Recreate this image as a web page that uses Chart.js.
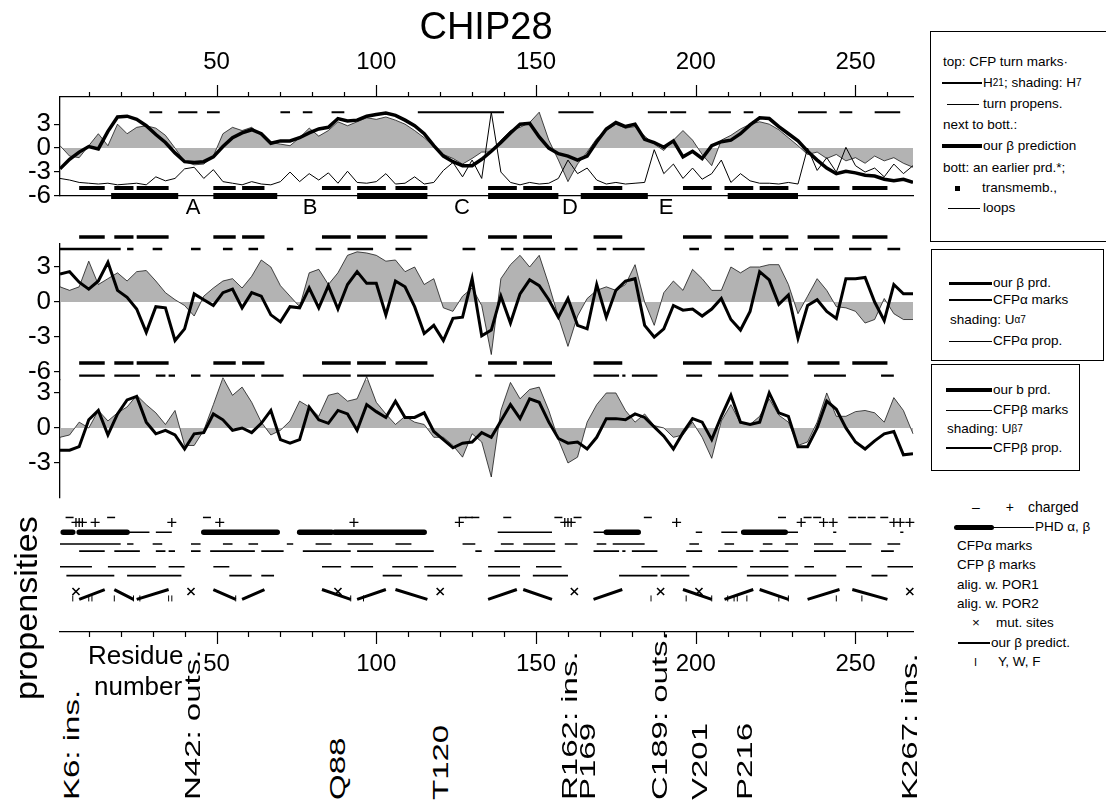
<!DOCTYPE html>
<html>
<head>
<meta charset="utf-8">
<script src="https://cdn.jsdelivr.net/npm/chart.js@4.4.1/dist/chart.umd.min.js"></script>
<style>
body{margin:0;background:#fff;width:1106px;height:803px;overflow:hidden;position:relative;font-family:Arial,"Liberation Sans",sans-serif;color:#000;}
canvas{position:absolute;left:0;}
.t{position:absolute;white-space:nowrap;line-height:1;}
.box{position:absolute;border:1.3px solid #000;}
.lg{position:absolute;font-size:13.5px;line-height:16px;height:16px;white-space:nowrap;display:flex;align-items:center;}
.ln{display:inline-block;background:#000;margin-right:1px;}
sub{font-size:10px;vertical-align:-3px;line-height:0;}
.rot{position:absolute;transform-origin:left top;white-space:nowrap;line-height:1;}
.site{font-size:22px;transform:rotate(-90deg) scaleX(1.5);}
</style>
</head>
<body>
<canvas id="c1" width="930" height="215" style="top:0"></canvas>
<canvas id="c2" width="930" height="160" style="top:225px"></canvas>
<canvas id="c3" width="930" height="140" style="top:368px"></canvas>
<canvas id="c4" width="930" height="185" style="top:500px"></canvas>

<div class="t" style="left:386px;top:7px;width:200px;text-align:center;font-size:38px">CHIP28</div>

<div class="t" style="left:173px;top:196px;width:40px;text-align:center;font-size:22px">A</div>
<div class="t" style="left:290px;top:196px;width:40px;text-align:center;font-size:22px">B</div>
<div class="t" style="left:442px;top:196px;width:40px;text-align:center;font-size:22px">C</div>
<div class="t" style="left:550px;top:196px;width:40px;text-align:center;font-size:22px">D</div>
<div class="t" style="left:646px;top:196px;width:40px;text-align:center;font-size:22px">E</div>

<div class="rot" style="left:11px;top:700px;font-size:31px;transform:rotate(-90deg) scaleX(1.1)">propensities</div>
<div class="t" style="left:88px;top:642px;font-size:26px">Residue</div>
<div class="t" style="left:94px;top:673px;font-size:26px">number</div>

<div class="rot site" style="left:61px;top:800px">K6: ins.</div>
<div class="rot site" style="left:182px;top:800px">N42: outs.</div>
<div class="rot site" style="left:327px;top:800px">Q88</div>
<div class="rot site" style="left:430px;top:800px">T120</div>
<div class="rot site" style="left:559px;top:800px">R162: ins.</div>
<div class="rot site" style="left:577px;top:800px">P169</div>
<div class="rot site" style="left:649px;top:800px">C189: outs.</div>
<div class="rot site" style="left:689px;top:800px">V201</div>
<div class="rot site" style="left:734px;top:800px">P216</div>
<div class="rot site" style="left:899px;top:800px">K267: ins.</div>

<!-- legend box 1 -->
<div class="box" style="left:930px;top:31px;width:200px;height:209px"></div>
<div class="lg" style="left:943px;top:54px">top: CFP turn marks·</div>
<div class="lg" style="left:942px;top:75px"><span class="ln" style="width:40px;height:2.5px"></span>H<sub>21</sub>; shading: H<sub>7</sub></div>
<div class="lg" style="left:947px;top:96px"><span class="ln" style="width:32px;height:1px;margin-right:4px"></span>turn propens.</div>
<div class="lg" style="left:943px;top:117px">next to bott.:</div>
<div class="lg" style="left:942px;top:138px"><span class="ln" style="width:40px;height:3.5px"></span>our β prediction</div>
<div class="lg" style="left:943px;top:160px">bott: an earlier prd.*;</div>
<div class="lg" style="left:955px;top:180px"><span class="ln" style="width:5px;height:5px;margin-right:22px"></span>transmemb.,</div>
<div class="lg" style="left:948px;top:200px"><span class="ln" style="width:32px;height:1px;margin-right:3px"></span>loops</div>

<!-- legend box 2 -->
<div class="box" style="left:931px;top:249px;width:171px;height:110px"></div>
<div class="lg" style="left:949px;top:275px"><span class="ln" style="width:43px;height:3px"></span>our β prd.</div>
<div class="lg" style="left:949px;top:292px"><span class="ln" style="width:43px;height:1.5px"></span>CFPα marks</div>
<div class="lg" style="left:950px;top:312px">shading: U<sub>α7</sub></div>
<div class="lg" style="left:949px;top:333px"><span class="ln" style="width:43px;height:1px"></span>CFPα prop.</div>

<!-- legend box 3 -->
<div class="box" style="left:931px;top:364px;width:147px;height:105px"></div>
<div class="lg" style="left:946px;top:382px"><span class="ln" style="width:46px;height:4px"></span>our b prd.</div>
<div class="lg" style="left:946px;top:402px"><span class="ln" style="width:46px;height:1px"></span>CFPβ marks</div>
<div class="lg" style="left:947px;top:421px">shading: U<sub>β7</sub></div>
<div class="lg" style="left:946px;top:440px"><span class="ln" style="width:46px;height:2.5px"></span>CFPβ prop.</div>

<!-- bottom legend -->
<div class="lg" style="left:972px;top:499px;font-size:14px">–<span style="display:inline-block;width:26px"></span>+<span style="display:inline-block;width:14px"></span>charged</div>
<div class="lg" style="left:954px;top:519px"><span class="ln" style="width:40px;height:5px;border-radius:3px;margin-right:0"></span><span class="ln" style="width:40px;height:1px"></span>PHD α, β</div>
<div class="lg" style="left:957px;top:538px">CFPα marks</div>
<div class="lg" style="left:957px;top:557px">CFP β marks</div>
<div class="lg" style="left:957px;top:577px">alig. w. POR1</div>
<div class="lg" style="left:957px;top:596px">alig. w. POR2</div>
<div class="lg" style="left:972px;top:615px"><span style="display:inline-block;width:24px">×</span>mut. sites</div>
<div class="lg" style="left:958px;top:635px"><span class="ln" style="width:32px;height:2.5px"></span>our β predict.</div>
<div class="lg" style="left:974px;top:654px"><span style="display:inline-block;width:24px;font-size:11px">I</span>Y, W, F</div>

<script>
// residue positions shared by all profile curves
const residues = [1,4,7,10,13,16,19,22,25,28,31,34,37,40,43,46,49,52,55,58,61,64,67,70,73,76,79,82,85,88,
  91,94,97,100,103,106,109,112,115,118,121,124,127,130,133,136,139,142,145,148,151,154,157,160,163,166,169,172,175,178,
  181,184,187,190,193,196,199,202,205,208,211,214,217,220,223,226,229,232,235,238,241,244,247,250,253,256,259,262,265,268];
const tickLabels = [50, 100, 150, 200, 250];
const minorTicks = [10,20,30,40,50,60,70,80,90,100,110,120,130,140,150,160,170,180,190,200,210,220,230,240,250,260];

// top panel: H21 (thick), H7 (shading), turn propensity (thin)
const h21 = [-2.6,-1.4,-0.5,0.2,-0.1,2.1,3.9,4.0,3.6,2.8, 1.7,0.7,-0.6,-1.7,-1.8,-1.7,-1.1,0.2,1.3,1.9,
  2.3,1.8,0.6,0.9,0.9,1.3,1.9,2.4,2.6,3.7, 3.4,3.5,4.0,4.2,4.4,4.1,3.5,2.8,1.8,0.3,
  -1.0,-1.7,-2.2,-2.2,-1.4,-0.4,0.7,1.9,3.0,3.1, 1.4,0.0,-0.7,-1.0,-1.5,-1.0,0.8,2.4,3.2,2.7,
  3.0,1.1,0.7,0.1,0.9,-1.1,-0.4,-1.3,0.3,0.8, 1.0,1.8,2.9,3.8,3.7,2.7,1.8,0.9,-0.4,-1.5,
  -2.5,-3.2,-2.9,-3.1,-3.4,-3.5,-3.9,-4.1,-3.9,-4.3];
const h7 = [0.3,-1.0,-1.2,0.3,1.8,0.3,3.0,1.8,2.6,2.8, 2.5,1.6,0.0,-1.7,-2.1,-2.0,-1.0,1.8,2.6,2.2,
  2.6,1.6,0.7,0.5,0.3,1.3,2.5,1.5,2.2,3.3, 2.8,3.3,3.8,3.6,3.9,3.5,3.0,2.2,1.3,0.2,
  -0.8,-1.3,-2.0,-1.3,-0.5,-0.5,1.0,2.2,2.6,3.2, 4.5,1.0,-1.5,-4.2,-2.0,-0.5,1.2,2.2,3.0,2.5,
  2.7,1.5,0.5,-0.3,1.0,2.2,1.0,-0.8,-2.2,1.0, 1.6,2.4,3.0,3.3,3.0,2.3,1.3,0.3,-0.8,-0.5,
  -1.3,-0.8,-1.6,-1.2,-1.9,-1.0,-1.6,-1.2,-1.9,-2.4];
const turnProp = [-3.8,-4.0,-4.3,-4.4,-4.5,-4.4,-4.6,-4.5,-4.4,-4.6, -3.6,-4.1,-3.8,-2.6,-2.4,-3.8,-2.7,-4.2,-4.4,-4.6,
  -4.2,-4.5,-4.6,-4.2,-3.0,-4.2,-3.2,-4.0,-3.1,-4.4, -2.9,-4.3,-4.4,-4.2,-3.2,-4.5,-4.4,-3.6,-4.5,-4.3,
  -2.8,-1.8,-3.6,-1.5,-3.8,4.5,-3.0,-4.3,-4.6,-4.3, -4.5,-4.4,-3.8,-1.5,-3.2,-2.5,-4.0,-4.5,-4.3,-4.5,
  -4.4,-4.3,-0.2,-3.2,-2.0,-3.8,-2.5,-3.9,-3.2,-1.5, -4.3,-3.2,-4.1,-4.4,-4.4,-4.5,-4.3,-4.5,0.0,-2.8,
  -1.2,-3.0,0.1,-2.2,-3.0,-2.5,-3.6,-2.0,-3.2,-2.2];

// middle panel: our beta prediction (thick) and U_alpha7 (shading)
const alphaPanelPrd = [2.4,2.6,1.7,1.1,1.8,3.4,1.0,0.4,-0.6,-2.6, -0.4,-0.5,-3.3,-2.3,0.7,0.2,-0.3,0.8,1.1,-0.5,
  0.8,0.5,-1.1,-1.7,-0.4,-0.5,1.2,-0.5,1.4,-0.6, 1.5,2.6,1.6,1.6,-1.1,1.8,1.3,-0.4,-2.7,-2.0,
  -3.3,-1.4,-1.3,2.0,-2.9,-2.4,0.5,-1.8,0.7,1.9, 1.4,0.2,-1.3,0.3,-2.0,-2.3,1.5,-1.3,1.0,1.8,
  2.0,-2.0,-3.0,-2.3,-0.3,-0.7,-0.6,-1.2,-0.6,0.3, -1.5,-2.4,-0.8,2.6,1.9,-0.2,0.6,-3.1,-0.3,0.2,
  -0.8,-1.4,2.0,2.0,2.1,0.0,-1.6,1.5,0.7,0.7];
const uAlpha = [1.3,1.0,1.3,3.5,1.5,2.0,2.5,1.8,2.6,2.7, 1.8,0.8,0.2,-0.3,-1.2,0.5,1.2,1.8,2.0,1.2,
  2.2,3.6,3.0,1.4,0.5,-0.4,2.5,2.8,1.5,2.5, 4.0,4.3,4.2,4.0,3.5,3.6,2.6,3.0,1.5,2.0,
  -0.5,-0.8,0.5,1.2,-0.3,-4.5,2.0,3.2,4.0,3.0, 4.0,1.5,-1.3,-3.8,-1.2,0.3,1.0,1.3,1.0,1.5,
  3.2,0.0,-2.0,0.8,1.8,1.0,2.8,2.0,1.0,1.0, 3.0,2.5,3.0,3.0,3.2,3.2,1.5,-1.0,0.5,2.0,
  1.0,-0.4,-0.5,-0.8,-1.8,-1.5,0.3,-1.0,-1.5,-1.5];

// lower panel: our b prediction (thick) and U_beta7 (shading)
const betaPanelPrd = [-1.9,-1.9,-1.6,0.7,1.5,-0.6,1.2,2.4,2.7,0.5, -0.5,-0.2,-0.6,-1.8,-0.5,-0.4,1.2,0.7,-0.2,0.0,
  -0.4,0.4,1.5,-1.0,-1.3,-1.0,1.8,0.7,0.4,1.5, 1.2,-0.2,2.0,1.4,0.9,2.3,0.9,0.9,1.3,-0.3,
  -1.0,-1.7,-1.3,-1.2,-0.4,-0.8,0.6,2.0,0.8,2.5, 2.2,0.5,-0.9,-1.3,-1.2,-1.8,-0.8,0.8,0.8,0.7,
  1.2,0.9,0.1,-0.7,-1.8,-0.4,0.8,0.5,-1.0,1.0, 2.8,0.5,0.3,0.5,3.0,1.3,1.0,-1.6,-1.6,0.0,
  2.3,1.6,0.0,-1.2,-1.8,-1.1,-0.5,-0.3,-2.3,-2.2];
const uBeta = [-0.8,-0.6,0.5,0.0,1.5,0.6,1.3,1.8,2.8,2.0, 1.3,0.3,1.5,-1.5,-1.5,-0.2,2.0,4.3,2.8,3.5,
  2.2,0.5,-0.6,-0.2,0.6,2.3,1.8,1.0,2.8,3.0, 2.3,2.5,4.4,2.2,1.2,0.3,1.0,0.5,0.3,-0.8,
  -0.8,-1.5,-2.5,-0.5,-1.2,-4.2,1.5,3.9,2.5,3.3, 3.5,1.5,-1.0,-3.0,-2.5,0.5,2.0,3.0,3.0,1.5,
  0.5,1.2,0.2,0.0,-0.8,-0.6,0.5,-0.8,-2.6,0.6, 2.0,0.4,0.3,1.0,2.5,1.1,0.5,-1.5,-1.2,0.5,
  3.0,1.0,1.0,1.4,1.5,1.3,0.5,2.6,1.5,-0.5];

// segment marks, [first residue, last residue]
const turnMarks = [[29,33],[38,44],[47,51],[70,73],[77,80],[86,90],[113,140],[157,168],[185,191],[192,197],[204,211],[215,218],[232,241],[245,249],[256,264]];
const betaPred = [[7,15],[18,24],[25,35],[49,56],[58,65],[83,92],[94,103],[106,116],[135,144],[146,155],[168,177],[196,205],[209,218],[220,229],[235,245],[249,260]];
const transMemb = [[17,38],[49,69],[94,116],[135,157],[164,185],[210,232]];
const cfpAlphaMarks = [[1,20],[22,24],[30,33],[42,45],[52,55],[60,63],[72,74],[81,86],[91,99],[106,111],[127,131],[139,143],[146,156],[159,163],[169,172],[174,184],[198,201],[209,212],[221,224],[228,232],[237,243],[248,255],[260,264]];
const cfpBetaMarks = [[7,15],[18,26],[31,34],[35,37],[42,45],[48,62],[64,71],[77,92],[94,118],[131,133],[137,156],[168,176],[177,178],[180,188],[197,202],[207,218],[220,229],[237,247],[258,262]];
const phdAlpha = [[2,5],[7,22],[46,69],[76,86],[87,115],[172,182],[215,228]];
const phdBeta = [[22,29],[31,36],[138,155],[168,172],[200,202],[208,213],[228,232],[243,244],[264,265]];
const por1 = [[1,11],[16,31],[35,40],[49,54],[83,89],[92,99],[105,113],[115,125],[135,145],[150,158],[183,197],[199,213],[217,229],[234,237],[247,252],[260,268]];
const por2 = [[3,18],[22,39],[54,61],[64,68],[102,108],[116,127],[135,145],[149,160],[176,188],[189,198],[216,229],[231,244],[255,260]];
const chargedNeg = [4,17,47,127,129,131,141,157,163,185,227,235,238,249,252,255,259];
const chargedPos = [6,7,8,12,36,51,93,126,159,160,161,194,233,240,243,262,264,267];
const mutSites = [6,42,88,120,162,189,201,267];
const ywfSites = [5,10,11,18,24,26,35,36,56,92,96,186,197,205,210,212,213,216,226,229,244,252];

const F = 'Arial, "Liberation Sans", sans-serif';
Chart.defaults.font.family = F;
Chart.defaults.color = '#000';
Chart.defaults.animation = false;
Chart.defaults.responsive = false;
Chart.defaults.events = [];
Chart.defaults.plugins.legend.display = false;
Chart.defaults.plugins.tooltip.enabled = false;

const GRAY = '#b3b3b3';

function pts(vals) { return residues.map((r, i) => ({ x: r, y: vals[i] })); }
function segs(list, level) {
  const out = [];
  list.forEach(([a, b]) => out.push({ x: a, y: level }, { x: b, y: level }, { x: b, y: null }));
  return out;
}
function lineDs(data, width, extra) {
  return Object.assign({ data, borderColor: '#000', borderWidth: width, pointRadius: 0,
    fill: false, tension: 0, spanGaps: false }, extra || {});
}
function shadeDs(vals) {
  return { data: pts(vals), borderColor: '#000', borderWidth: 0.7, backgroundColor: GRAY,
    pointRadius: 0, fill: 'origin', tension: 0 };
}
function markDs(list, level, style, radius, width, rot) {
  return { data: list.map(r => ({ x: r, y: level })), showLine: false, pointStyle: style,
    pointRadius: radius, pointBorderWidth: width, pointBorderColor: '#000',
    pointBackgroundColor: '#000', pointRotation: rot || 0, clip: false };
}
function noPad(s) { s.paddingTop = 0; s.paddingBottom = 0; s.paddingLeft = 0; s.paddingRight = 0; }
function yAxis(min, max, ticks) {
  return {
    type: 'linear', min, max, position: 'left',
    afterFit: s => { s.width = 60; noPad(s); },
    afterBuildTicks: s => { s.ticks = ticks.map(v => ({ value: v })); },
    grid: { drawOnChartArea: false, drawTicks: true, tickLength: 6, color: '#000', lineWidth: 1.2 },
    border: { display: true, color: '#000', width: 1.3 },
    ticks: { color: '#000', font: { family: F, size: 26 }, padding: 3, autoSkip: false,
      callback: v => String(v) }
  };
}
const xHidden = { type: 'linear', min: 1, max: 268, display: false };

// tick marks every 10 residues, longer at the labelled ones
const residueTicks = {
  id: 'residueTicks',
  afterDraw(chart, args, opts) {
    const s = chart.scales[opts.axis];
    const ctx = chart.ctx;
    const y0 = opts.up ? s.bottom : s.top;
    ctx.save();
    ctx.strokeStyle = '#000';
    ctx.lineWidth = 1.2;
    minorTicks.forEach(r => {
      const x = Math.round(s.getPixelForValue(r)) + 0.5;
      const len = tickLabels.includes(r) ? 12 : 5;
      ctx.beginPath();
      ctx.moveTo(x, y0);
      ctx.lineTo(x, opts.up ? y0 - len : y0 + len);
      ctx.stroke();
    });
    ctx.restore();
  }
};

// top panel
new Chart(document.getElementById('c1'), {
  type: 'line',
  data: { datasets: [
    lineDs(pts(h21), 3.5),
    lineDs(pts(turnProp), 1),
    lineDs(segs(turnMarks, 4.5), 2, { clip: false }),
    lineDs(segs(betaPred, -5), 4, { clip: false }),
    lineDs(segs(transMemb, -6), 6, { clip: false }),
    shadeDs(h7)
  ] },
  plugins: [residueTicks],
  options: {
    layout: { padding: { left: 0, right: 17, top: 0, bottom: 0 } },
    plugins: { residueTicks: { axis: 'xTop', up: true } },
    scales: {
      x: { type: 'linear', min: 1, max: 268, position: 'bottom',
        afterFit: s => { s.height = 19; noPad(s); },
        ticks: { display: false }, grid: { display: false, drawTicks: false },
        border: { display: true, color: '#000', width: 1.3 } },
      xTop: { type: 'linear', min: 1, max: 268, position: 'top',
        afterFit: s => { s.height = 97; noPad(s); },
        afterBuildTicks: s => { s.ticks = tickLabels.map(v => ({ value: v })); },
        grid: { display: false, drawTicks: false },
        border: { display: true, color: '#000', width: 1.3 },
        ticks: { font: { family: F, size: 24 }, color: '#000', padding: 20, maxRotation: 0 } },
      y: yAxis(-6, 6.4, [3, 0, -3, -6])
    }
  }
});

// alpha panel
new Chart(document.getElementById('c2'), {
  type: 'line',
  data: { datasets: [
    lineDs(pts(alphaPanelPrd), 3),
    lineDs(segs(betaPred, 5.57), 3.5, { clip: false }),
    lineDs(segs(cfpAlphaMarks, 4.54), 2.5, { clip: false }),
    lineDs(segs(betaPred, -5.23), 3.5, { clip: false }),
    lineDs(segs(cfpBetaMarks, -6.3), 2.2, { clip: false }),
    shadeDs(uAlpha)
  ] },
  options: {
    layout: { padding: { left: 0, right: 17, top: 19, bottom: 5 } },
    scales: { x: xHidden, y: yAxis(-6.68, 4.97, [3, 0, -3, -6]) }
  }
});

// beta panel
const betaShade = shadeDs(uBeta);
betaShade.clip = false;
new Chart(document.getElementById('c3'), {
  type: 'line',
  data: { datasets: [ lineDs(pts(betaPanelPrd), 3), betaShade ] },
  options: {
    layout: { padding: { left: 0, right: 17, top: 12, bottom: 10 } },
    scales: { x: xHidden, y: yAxis(-6, 4.11, [3, 0, -3]) }
  }
});

// propensities panel: one level per row of marks
const slants = [];
betaPred.forEach(([a, b], i) => {
  const lo = 3.3, hi = 4.3;
  slants.push({ x: a, y: i % 2 ? hi : lo }, { x: b, y: i % 2 ? lo : hi }, { x: b, y: null });
});
new Chart(document.getElementById('c4'), {
  type: 'line',
  data: { datasets: [
    markDs(chargedNeg, 11.6, 'line', 4, 1.5),
    markDs(chargedPos, 11.1, 'cross', 4.5, 1.3),
    lineDs(segs(phdAlpha, 10.1), 5.5, { borderCapStyle: 'round' }),
    lineDs(segs(phdBeta, 10.1), 1.3),
    lineDs(segs(cfpAlphaMarks, 8.9), 1.5),
    lineDs(segs(cfpBetaMarks, 8.2), 1.8),
    lineDs(segs(por1, 6.6), 1.5),
    lineDs(segs(por2, 5.7), 1.8),
    markDs(mutSites, 4.1, 'crossRot', 5, 1.6),
    lineDs(slants, 3),
    markDs(ywfSites, 3.4, 'line', 3, 1, 90)
  ] },
  plugins: [residueTicks],
  options: {
    layout: { padding: { left: 60, right: 17, top: 5, bottom: 0 } },
    plugins: { residueTicks: { axis: 'x', up: false } },
    scales: {
      x: { type: 'linear', min: 1, max: 268, position: 'bottom',
        afterFit: s => { s.height = 53; noPad(s); },
        afterBuildTicks: s => { s.ticks = tickLabels.map(v => ({ value: v })); },
        grid: { display: false, drawTicks: false },
        border: { display: true, color: '#000', width: 1.3 },
        ticks: { font: { family: F, size: 24 }, color: '#000', padding: 18, maxRotation: 0 } },
      y: { type: 'linear', min: 0, max: 12.7, display: false }
    }
  }
});
</script>
</body>
</html>
